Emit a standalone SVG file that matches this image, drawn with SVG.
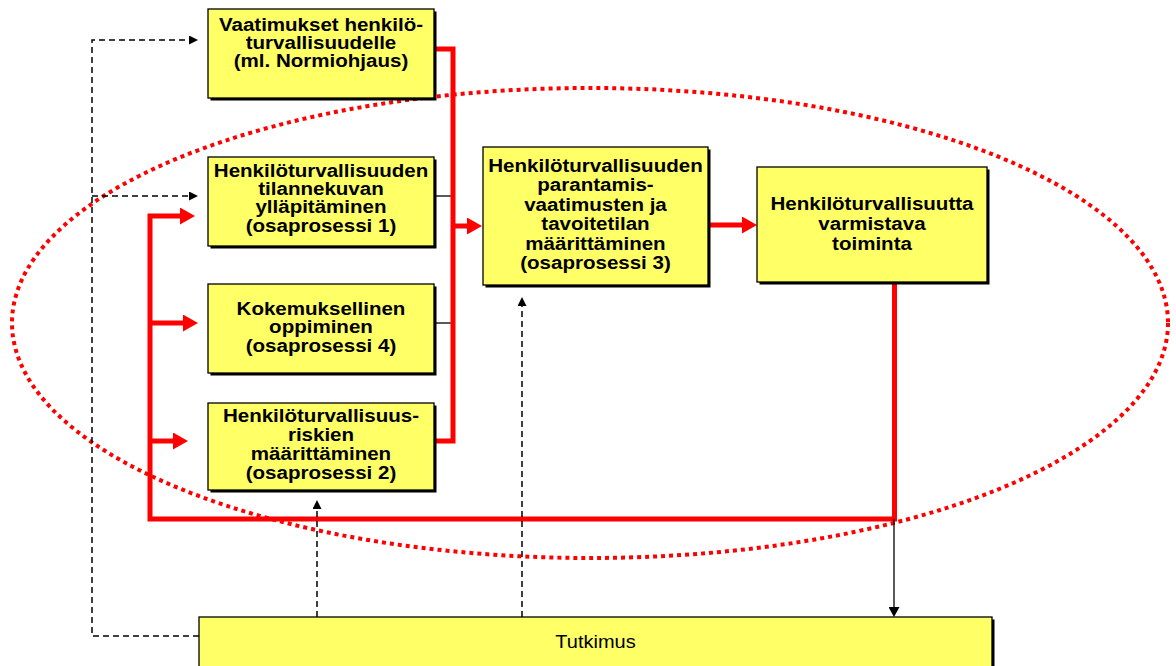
<svg xmlns="http://www.w3.org/2000/svg" width="1176" height="666" viewBox="0 0 1176 666">
<style>
.box{fill:#FFFF66;stroke:#000;stroke-width:1.3}
.shadow{fill:#000}
.t{font-family:"Liberation Sans",Arial,sans-serif;font-weight:bold;font-size:18.5px;text-anchor:middle;fill:#000}
.tr{font-family:"Liberation Sans",Arial,sans-serif;font-weight:normal;font-size:18.5px;text-anchor:middle;fill:#000}
.red{fill:none;stroke:#FF0000;stroke-width:5;stroke-linejoin:miter}
.thin{fill:none;stroke:#000;stroke-width:1.3}
.dash{fill:none;stroke:#000;stroke-width:1.5;stroke-dasharray:6 4}
.ell{fill:none;stroke:#FF0000;stroke-width:4;stroke-dasharray:4 4}
</style>
<defs>
<marker id="rh" markerUnits="userSpaceOnUse" markerWidth="16" markerHeight="17" refX="0" refY="8.5" orient="auto">
<path d="M0,0 L15,8.5 L0,17 z" fill="#FF0000"/>
</marker>
<marker id="bh" markerUnits="userSpaceOnUse" markerWidth="10" markerHeight="9" refX="0" refY="4.5" orient="auto">
<path d="M0,0 L9,4.5 L0,9 z" fill="#000"/>
</marker>
<marker id="bh2" markerUnits="userSpaceOnUse" markerWidth="11" markerHeight="11" refX="0" refY="5.5" orient="auto">
<path d="M0,0 L10,5.5 L0,11 z" fill="#000"/>
</marker>
</defs>
<rect x="0" y="0" width="1176" height="666" fill="#fff"/>

<g id="boundary">
<ellipse class="ell" cx="590" cy="323" rx="578" ry="235"/>
</g>

<g id="connectors">
<path class="thin" d="M434,196 H453"/>
<path class="thin" d="M434,323 H453"/>
<path class="red" d="M434,49 H453 V441 H434"/>
<path class="red" d="M453,226 H467" marker-end="url(#rh)"/>
<path class="red" d="M708,225 H742" marker-end="url(#rh)"/>
<path class="red" d="M894.5,284 V519 H150 V216 H180" marker-end="url(#rh)"/>
<path class="red" d="M150,323 H183" marker-end="url(#rh)"/>
<path class="red" d="M150,441 H173" marker-end="url(#rh)"/>
<path class="thin" d="M894,519 V607" marker-end="url(#bh2)"/>
<path class="dash" d="M199,636 H92 V40 H189" marker-end="url(#bh)"/>
<path class="dash" d="M92,196 H189" marker-end="url(#bh)"/>
<path class="dash" d="M317,617 V509" marker-end="url(#bh)"/>
<path class="dash" d="M522,617 V306" marker-end="url(#bh)"/>
</g>

<g id="node-vaatimukset">
<rect class="shadow" x="210.5" y="11.5" width="226" height="89"/>
<rect class="box" x="208" y="9" width="226" height="89"/>
<g transform="translate(321 0) scale(1.11 1) translate(-321 0)">
<text class="t" x="321" y="31">Vaatimukset henkilö-</text>
<text class="t" x="321" y="49">turvallisuudelle</text>
<text class="t" x="321" y="67">(ml. Normiohjaus)</text>
</g>
</g>

<g id="node-osaprosessi1">
<rect class="shadow" x="210.5" y="159.5" width="226" height="89"/>
<rect class="box" x="208" y="157" width="226" height="89"/>
<g transform="translate(321 0) scale(1.11 1) translate(-321 0)">
<text class="t" x="321" y="177">Henkilöturvallisuuden</text>
<text class="t" x="321" y="195">tilannekuvan</text>
<text class="t" x="321" y="213.5">ylläpitäminen</text>
<text class="t" x="321" y="232">(osaprosessi 1)</text>
</g>
</g>

<g id="node-osaprosessi4">
<rect class="shadow" x="210.5" y="286.5" width="226" height="89"/>
<rect class="box" x="208" y="284" width="226" height="89"/>
<g transform="translate(321 0) scale(1.11 1) translate(-321 0)">
<text class="t" x="321" y="315">Kokemuksellinen</text>
<text class="t" x="321" y="333.5">oppiminen</text>
<text class="t" x="321" y="352">(osaprosessi 4)</text>
</g>
</g>

<g id="node-osaprosessi2">
<rect class="shadow" x="210.5" y="405.5" width="226" height="87"/>
<rect class="box" x="208" y="403" width="226" height="87"/>
<g transform="translate(321 0) scale(1.11 1) translate(-321 0)">
<text class="t" x="321" y="422">Henkilöturvallisuus-</text>
<text class="t" x="321" y="441">riskien</text>
<text class="t" x="321" y="460">määrittäminen</text>
<text class="t" x="321" y="479">(osaprosessi 2)</text>
</g>
</g>

<g id="node-osaprosessi3">
<rect class="shadow" x="485.5" y="149.5" width="225" height="138"/>
<rect class="box" x="483" y="147" width="225" height="138"/>
<g transform="translate(595.5 0) scale(1.11 1) translate(-595.5 0)">
<text class="t" x="595.5" y="172">Henkilöturvallisuuden</text>
<text class="t" x="595.5" y="191.5">parantamis-</text>
<text class="t" x="595.5" y="211">vaatimusten ja</text>
<text class="t" x="595.5" y="230.5">tavoitetilan</text>
<text class="t" x="595.5" y="250">määrittäminen</text>
<text class="t" x="595.5" y="269.5">(osaprosessi 3)</text>
</g>
</g>

<g id="node-varmistava">
<rect class="shadow" x="759.5" y="169.5" width="230" height="115"/>
<rect class="box" x="757" y="167" width="230" height="115"/>
<g transform="translate(872 0) scale(1.11 1) translate(-872 0)">
<text class="t" x="872" y="210">Henkilöturvallisuutta</text>
<text class="t" x="872" y="230">varmistava</text>
<text class="t" x="872" y="250">toiminta</text>
</g>
</g>

<g id="node-tutkimus">
<rect class="shadow" x="201.5" y="619.5" width="793" height="60"/>
<rect class="box" x="199" y="617" width="793" height="60"/>
<g transform="translate(595.5 0) scale(1.08 1) translate(-595.5 0)">
<text class="tr" x="595.5" y="648">Tutkimus</text>
</g>
</g>
</svg>
